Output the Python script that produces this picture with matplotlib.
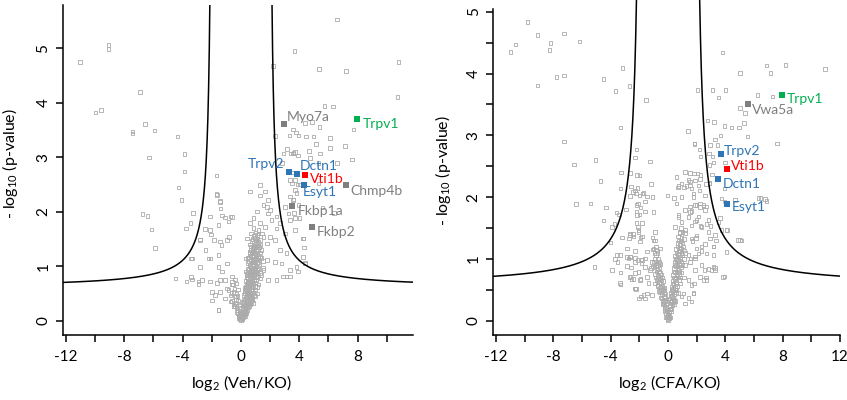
import numpy as np
import matplotlib
matplotlib.use("Agg")
import matplotlib.pyplot as plt
from matplotlib.ticker import MultipleLocator

plt.rcParams['font.family'] = ['Lato', 'DejaVu Sans']
plt.rcParams['axes.unicode_minus'] = False
plt.rcParams['mathtext.fontset'] = 'custom'
plt.rcParams['mathtext.rm'] = 'Lato'

# ---------------- data: left panel (Veh/KO) ----------------
left_outer = [
    (-9.09, 5.06), (-9.09, 4.98), (-11.03, 4.74), (-6.92, 4.19), (-9.96, 3.82), (-9.59, 3.86),
    (-6.58, 3.61), (-5.94, 3.49), (-7.45, 3.47), (-7.45, 3.43), (-4.34, 3.38), (-3.88, 3.06),
    (-6.30, 2.99), (-3.88, 2.74), (-1.67, 2.66), (-4.29, 2.44), (-4.07, 2.21), (-1.67, 2.32),
    (-1.44, 2.20), (-6.76, 1.96), (-6.42, 1.92), (-3.27, 1.98), (-3.45, 1.79), (-3.77, 1.69),
    (-6.12, 1.67), (-2.81, 1.49), (-2.12, 1.91), (-5.89, 1.33), (-3.42, 1.14), (-4.48, 0.77),
    (-3.42, 0.80), (-3.34, 0.76), (-2.92, 0.72), (-2.92, 0.67), (-3.72, 0.72), (-2.12, 0.72),
    (-1.55, 0.20), (-2.22, 1.14), (-2.12, 1.66), (-2.47, 1.68), (-2.05, 1.58), (-1.85, 1.48),
    (-1.33, 1.39), (-1.55, 1.21), (-0.82, 1.54), (-1.10, 1.89), (-1.40, 2.06), (-0.60, 1.90),
    (-1.64, 2.31), (-1.42, 2.18), (-1.31, 1.93), (-1.53, 1.76), (-0.85, 1.82), (-0.73, 1.91),
    (-0.96, 1.48), (-1.42, 1.45), (-3.36, 1.14), (-2.79, 1.48), (-2.44, 1.30), (-2.10, 1.14),
    (-2.79, 0.99), (-1.53, 0.99), (-1.31, 0.90), (-0.96, 1.05), (-1.64, 0.69), (-1.42, 0.75),
    (-1.08, 0.75), (-0.62, 0.81), (-0.62, 0.66), (-2.00, 0.53), (-1.76, 0.47), (-1.42, 0.53),
    (-0.96, 0.59), (-1.08, 0.41), (-0.39, 0.44), (-0.73, 0.35), (-0.50, 0.26), (-1.53, 0.20),
    (-2.00, 0.37), (-2.67, 0.75),
    (0.64, 2.37), (1.32, 2.49), (1.32, 2.30), (1.64, 2.37), (1.87, 2.21), (1.55, 2.12),
    (1.10, 2.00), (0.87, 1.88), (0.64, 1.79), (0.41, 1.51), (1.78, 2.09), (1.87, 1.97),
    (2.10, 1.85), (1.99, 2.03), (2.44, 1.91), (2.67, 1.79), (2.44, 1.69), (1.64, 1.72),
    (1.32, 1.79), (1.21, 1.60), (1.55, 1.54), (1.99, 1.54), (2.33, 1.48), (1.78, 1.42),
    (1.32, 1.39), (0.87, 1.36), (0.64, 1.24), (0.30, 1.14), (2.90, 0.81), (3.13, 0.81),
    (3.36, 0.93), (3.82, 0.99), (3.93, 0.90), (4.27, 1.17), (4.38, 1.05), (2.79, 1.05),
    (3.13, 1.24), (2.67, 1.30), (2.33, 1.08), (1.78, 1.11), (1.55, 0.93), (1.87, 0.75),
    (2.44, 0.75), (3.25, 1.97), (3.02, 2.09), (3.36, 2.28), (3.59, 2.22), (3.82, 2.34),
    (3.36, 1.85), (3.70, 1.88), (3.70, 1.66), (3.02, 1.60), (4.27, 1.51),
    (6.58, 5.52), (3.67, 4.95), (2.19, 4.67), (5.36, 4.62), (7.21, 4.58), (10.80, 4.74),
    (10.75, 4.10), (5.73, 3.94), (6.30, 3.93), (4.40, 3.63), (4.86, 3.64), (5.39, 3.55),
    (3.56, 3.51), (3.79, 3.45), (3.33, 3.40), (3.95, 3.40), (4.46, 3.38), (4.98, 3.38),
    (7.72, 3.51), (2.35, 3.39), (5.15, 3.24), (6.10, 3.17), (7.14, 3.20), (3.15, 3.15),
    (3.42, 3.07), (3.60, 3.08), (3.90, 3.03), (4.68, 3.11), (5.43, 3.07), (7.62, 2.96),
    (2.92, 3.07), (2.81, 2.89), (6.58, 2.89), (6.12, 3.35), (5.32, 2.89), (5.32, 2.52),
    (3.38, 2.58), (3.56, 3.07), (3.72, 3.09), (4.75, 2.98), (3.49, 2.52), (3.72, 2.40),
    (3.56, 2.21), (3.95, 2.12), (3.65, 1.98), (4.02, 1.88), (4.29, 1.51), (4.33, 1.34),
    (4.40, 1.06), (3.38, 0.81), (4.06, 2.50), (3.88, 2.50), (3.49, 2.72), (3.72, 2.58),
    (6.40, 1.98), (5.60, 2.08),
]
left_cluster = [
    (-0.15, 0.05), (-0.05, 0.03), (0.00, 0.01), (0.05, 0.06), (0.10, 0.04), (0.15, 0.09),
    (-0.10, 0.10), (0.08, 0.12), (0.02, 0.08), (-0.02, 0.14),
    (-0.30, 0.16), (-0.20, 0.13), (-0.10, 0.18), (0.05, 0.17), (0.12, 0.15), (0.20, 0.19),
    (0.25, 0.14), (0.30, 0.21),
    (-0.45, 0.27), (-0.30, 0.24), (-0.15, 0.28), (0.10, 0.23), (0.20, 0.26), (0.28, 0.29),
    (0.35, 0.24), (0.42, 0.28), (0.50, 0.25),
    (-0.60, 0.36), (-0.40, 0.33), (-0.20, 0.37), (0.15, 0.34), (0.25, 0.38), (0.35, 0.33),
    (0.42, 0.37), (0.50, 0.35), (0.60, 0.39), (0.70, 0.34),
    (-0.70, 0.46), (-0.35, 0.44), (0.20, 0.47), (0.30, 0.43), (0.40, 0.46), (0.48, 0.42),
    (0.55, 0.48), (0.62, 0.45), (0.75, 0.44), (0.90, 0.47),
    (-0.85, 0.56), (-0.50, 0.53), (-0.20, 0.57), (0.25, 0.54), (0.35, 0.58), (0.45, 0.53),
    (0.55, 0.56), (0.62, 0.52), (0.70, 0.58), (0.80, 0.55), (1.00, 0.57),
    (-0.55, 0.66), (0.30, 0.63), (0.40, 0.67), (0.50, 0.64), (0.60, 0.68), (0.68, 0.63),
    (0.75, 0.66), (0.85, 0.69), (0.95, 0.64), (1.20, 0.66),
    (-0.40, 0.76), (0.35, 0.73), (0.45, 0.77), (0.55, 0.74), (0.65, 0.78), (0.72, 0.72),
    (0.80, 0.76), (0.90, 0.79), (1.05, 0.74), (1.30, 0.77),
    (0.40, 0.86), (0.50, 0.83), (0.60, 0.88), (0.70, 0.84), (0.78, 0.87), (0.85, 0.82),
    (0.95, 0.86), (1.10, 0.89), (1.40, 0.84),
    (0.45, 0.96), (0.55, 0.93), (0.65, 0.97), (0.75, 0.92), (0.85, 0.98), (0.92, 0.94),
    (1.00, 0.96), (1.15, 0.93), (1.50, 0.97),
    (0.50, 1.06), (0.62, 1.03), (0.72, 1.07), (0.82, 1.04), (0.90, 1.08), (1.00, 1.02),
    (1.10, 1.06), (1.25, 1.04),
    (0.55, 1.16), (0.68, 1.13), (0.80, 1.17), (0.90, 1.14), (1.00, 1.18), (1.10, 1.12),
    (1.20, 1.16), (1.40, 1.15),
    (0.60, 1.26), (0.75, 1.23), (0.85, 1.27), (0.95, 1.24), (1.05, 1.28), (1.15, 1.22),
    (1.30, 1.25),
    (0.70, 1.36), (0.80, 1.33), (0.90, 1.37), (1.00, 1.34), (1.10, 1.38), (1.25, 1.35),
    (0.75, 1.46), (0.90, 1.43), (1.05, 1.47), (1.20, 1.44), (0.90, 1.55), (1.10, 1.57),
    (0.20, 0.10), (0.35, 0.17), (0.55, 0.30), (0.80, 0.40), (0.25, 0.60), (0.45, 0.70),
    (0.65, 0.90), (0.70, 1.10), (-0.25, 0.45), (-0.05, 0.30),
]
left_cluster_extra = [
    (0.12, 0.02), (0.18, 0.07), (-0.08, 0.06), (0.22, 0.11), (0.28, 0.09), (-0.18, 0.09),
    (0.32, 0.16), (0.38, 0.13), (-0.25, 0.20), (0.15, 0.22),
    (0.45, 0.20), (0.52, 0.31), (0.58, 0.27), (0.32, 0.30), (0.22, 0.32), (0.65, 0.30),
    (0.18, 0.39), (0.62, 0.40), (0.75, 0.37), (0.85, 0.32), (-0.35, 0.38), (-0.50, 0.30),
    (0.28, 0.50), (0.38, 0.52), (0.50, 0.50), (0.58, 0.60), (0.68, 0.50), (0.72, 0.42),
    (0.85, 0.52), (0.95, 0.45), (0.42, 0.41), (0.32, 0.57), (1.10, 0.50), (-0.45, 0.58),
    (-0.65, 0.51), (-0.30, 0.50),
    (0.35, 0.62), (0.48, 0.72), (0.58, 0.62), (0.62, 0.72), (0.70, 0.70), (0.78, 0.62),
    (0.88, 0.74), (0.98, 0.70), (1.10, 0.62), (0.42, 0.80), (1.15, 0.80), (0.52, 0.67),
    (-0.60, 0.72), (-0.30, 0.68),
    (0.48, 0.88), (0.58, 0.82), (0.68, 0.92), (0.80, 0.90), (0.90, 0.84), (1.00, 0.90),
    (1.05, 0.82), (1.20, 0.95), (0.60, 1.00), (0.72, 0.98), (0.88, 1.00), (1.30, 0.88),
    (0.35, 0.90),
    (0.55, 1.10), (0.65, 1.12), (0.78, 1.10), (0.95, 1.12), (1.05, 1.14), (1.18, 1.08),
    (1.30, 1.18), (0.60, 1.20), (0.85, 1.20), (1.50, 1.10), (0.45, 1.15),
    (0.68, 1.30), (0.80, 1.28), (0.92, 1.32), (1.00, 1.22), (1.12, 1.30), (1.20, 1.38),
    (1.40, 1.30), (0.62, 1.40), (0.85, 1.40),
    (0.80, 1.50), (0.98, 1.52), (1.15, 1.50), (1.30, 1.48), (0.70, 1.60), (1.00, 1.62),
    (1.20, 1.66), (1.45, 1.60), (0.85, 1.70),
]
left_x_ticks = [-12, -8, -4, 0, 4, 8]
left_y_ticks = [0, 1, 2, 3, 4, 5]
left_hits = ['Myo7a', 'Trpv1', 'Trpv2', 'Dctn1', 'Vti1b', 'Esyt1', 'Chmp4b', 'Fkbp1a', 'Fkbp2']
left_hit_x = [2.92, 7.95, 3.29, 3.84, 4.40, 4.32, 7.19, 3.49, 4.90]
left_hit_y = [3.60, 3.70, 2.72, 2.69, 2.67, 2.48, 2.48, 2.11, 1.72]
left_hit_group = ['gray', 'green', 'blue', 'blue', 'red', 'blue', 'gray', 'gray', 'gray']

# ---------------- data: right panel (CFA/KO) ----------------
right_outer = [
    (-9.80, 4.83), (-9.13, 4.62), (-7.25, 4.65), (-10.64, 4.47), (-11.01, 4.35), (-8.20, 4.49),
    (-8.29, 4.38), (-6.18, 4.52), (-3.18, 4.09), (-7.25, 3.97), (-7.78, 3.94), (-9.13, 3.81),
    (-4.51, 3.91), (-3.67, 3.72), (-2.69, 3.80), (-3.32, 3.13), (-7.25, 2.90), (-2.21, 2.77),
    (-2.32, 2.64), (-6.57, 2.53), (-5.06, 2.60), (-3.30, 2.40), (-2.67, 2.39), (-2.16, 2.36),
    (-4.72, 2.26), (-3.32, 2.14), (-2.14, 2.15), (-2.44, 2.08), (-2.25, 2.06), (-2.64, 2.02),
    (-6.41, 1.89), (-5.41, 1.90), (-4.34, 1.83), (-3.60, 1.75), (-2.95, 1.80), (-2.21, 1.87),
    (-1.91, 1.83), (-3.42, 1.72), (-3.74, 1.57), (-4.51, 1.62), (-3.93, 1.52), (-2.21, 1.77),
    (-1.98, 1.72), (-2.21, 1.58), (-2.07, 1.47), (-2.44, 1.40), (-2.74, 1.33), (-3.23, 1.35),
    (-1.91, 1.35), (-4.02, 1.27), (-3.56, 1.06), (-3.70, 1.00), (-2.86, 1.03), (-2.67, 1.03),
    (-2.32, 1.02), (-2.14, 0.98), (-1.86, 0.99), (-1.86, 0.93), (-5.12, 0.87), (-3.93, 0.82),
    (-3.32, 0.78), (-2.58, 0.86), (-2.62, 0.72), (-2.55, 0.67), (-2.30, 0.77), (-1.93, 0.68),
    (-3.32, 0.59), (-2.25, 0.51), (-1.90, 0.39), (-2.02, 0.36),
    (-1.53, 3.57), (-1.25, 2.58), (-1.99, 2.35), (-1.10, 2.00), (-0.05, 2.03), (0.41, 1.99),
    (-1.19, 2.21), (-1.60, 1.77), (-1.78, 2.06), (-2.18, 1.71), (-2.11, 1.52), (-2.65, 1.39),
    (-2.88, 1.17), (-2.30, 1.13), (-3.35, 1.06), (-3.53, 0.95), (-2.88, 0.89), (-2.69, 0.71),
    (-1.95, 0.66), (-2.30, 0.52), (-1.60, 0.36), (-1.14, 0.42),
    (-2.30, 2.11), (-1.99, 2.03), (-1.72, 2.07), (-2.58, 2.17), (-1.48, 2.01), (-1.60, 1.93),
    (-2.09, 1.90), (-1.02, 1.76), (-1.83, 1.58), (-2.07, 1.44), (-2.65, 1.41), (-2.41, 1.36),
    (-1.83, 1.36), (-1.95, 1.28), (-0.91, 1.44), (-1.02, 1.30), (-1.48, 1.12), (-1.60, 1.01),
    (-1.02, 1.17), (-0.79, 1.14), (-0.56, 1.17), (-2.65, 1.04), (-2.76, 1.01), (-2.30, 0.95),
    (-1.83, 0.98), (-1.60, 0.87), (-1.13, 0.95), (-1.25, 0.82), (-2.07, 0.79), (-2.41, 0.68),
    (-3.34, 0.61), (-2.30, 0.52), (-1.72, 0.42), (-1.48, 0.44), (-1.48, 0.71), (-1.37, 0.61),
    (0.60, 2.33), (0.95, 2.22), (1.42, 2.28), (1.65, 2.14), (2.11, 2.19), (1.76, 2.00),
    (0.95, 2.00), (0.60, 1.90), (1.18, 1.79), (1.53, 1.85), (1.88, 1.87), (2.23, 1.90),
    (2.46, 1.85), (0.72, 1.68), (0.95, 1.60), (1.42, 1.68), (1.65, 1.54), (1.99, 1.63),
    (2.34, 1.52), (2.69, 1.57), (2.81, 1.44), (2.93, 1.33), (1.99, 1.38), (1.65, 1.33),
    (0.48, 1.52), (0.83, 1.44), (1.18, 1.47), (2.34, 1.20), (2.69, 1.09), (3.16, 1.20),
    (3.16, 1.06), (2.11, 1.09), (1.88, 1.01), (1.42, 1.06), (1.53, 0.95), (2.34, 0.90),
    (1.88, 0.82), (2.23, 0.71), (3.04, 0.82), (3.27, 0.85), (2.69, 0.66), (3.85, 0.71),
    (1.42, 0.66), (1.65, 0.58), (1.76, 0.45), (1.42, 0.37), (0.95, 0.39), (1.18, 0.28),
    (4.90, 1.31), (4.09, 1.47), (3.62, 1.66), (3.27, 1.39),
    (3.81, 4.34), (5.02, 4.01), (6.88, 4.13), (7.16, 4.01), (8.20, 4.14), (10.96, 4.07),
    (2.04, 3.73), (3.11, 3.73), (4.00, 3.73), (3.53, 3.61), (6.25, 3.65), (5.02, 3.44),
    (5.37, 3.36), (7.30, 3.63), (2.74, 3.24), (3.20, 3.22), (3.93, 3.15), (4.44, 3.13),
    (4.97, 3.13), (5.30, 3.20), (3.67, 3.00), (5.53, 2.98), (7.62, 2.87), (1.84, 2.87),
    (2.93, 2.84), (3.44, 2.84), (3.27, 2.93), (2.86, 2.71), (3.09, 2.66), (3.16, 2.56),
    (2.88, 2.52), (3.97, 2.56), (2.27, 2.36), (2.23, 2.29), (3.07, 2.37), (1.81, 2.38),
    (1.53, 2.25), (1.88, 2.27), (2.65, 2.21), (2.90, 2.23), (2.18, 2.11), (1.76, 2.06),
    (2.58, 2.03), (3.74, 1.98), (3.93, 1.93), (6.88, 1.94), (6.46, 1.99), (1.99, 1.87),
    (2.23, 1.84), (2.46, 1.87), (2.58, 1.79), (1.65, 1.78), (2.11, 1.69), (1.88, 1.61),
    (2.81, 1.63), (2.97, 1.53), (2.27, 1.53), (4.13, 1.47), (3.35, 1.30), (3.16, 1.20),
    (5.02, 1.31), (1.95, 1.34), (1.69, 1.29), (2.58, 1.24), (2.35, 1.13), (2.00, 1.17),
    (1.58, 1.01), (1.88, 1.04), (3.16, 0.87), (2.53, 0.82), (3.93, 0.72), (2.65, 0.70),
    (2.46, 0.66), (1.81, 0.60), (1.76, 0.44), (1.65, 0.31), (1.41, 3.07), (1.83, 2.86),
    (2.20, 2.77), (2.27, 2.66), (1.20, 2.41), (1.55, 2.39), (2.06, 2.38), (0.70, 2.16),
    (1.11, 2.16), (1.55, 2.19), (2.90, 2.22), (3.95, 2.14), (6.30, 1.99), (6.77, 1.97),
    (0.72, 2.18), (1.30, 2.18), (0.72, 1.71), (1.53, 1.76), (2.69, 1.85), (3.51, 1.60),
    (4.09, 1.11), (5.13, 1.30), (4.66, 1.95), (3.74, 1.47), (2.81, 0.84), (3.28, 0.82),
    (1.07, 0.44),
]
right_cluster = [
    (-0.10, 0.05), (-0.05, 0.03), (0.00, 0.01), (0.05, 0.04), (0.10, 0.07), (0.02, 0.10),
    (-0.02, 0.08),
    (-0.25, 0.16), (-0.15, 0.13), (-0.08, 0.17), (0.08, 0.14), (0.15, 0.18), (0.22, 0.15),
    (-0.35, 0.26), (-0.25, 0.23), (-0.15, 0.27), (0.12, 0.24), (0.20, 0.28), (0.30, 0.25),
    (0.40, 0.27),
    (-0.45, 0.36), (-0.35, 0.33), (-0.22, 0.37), (-0.15, 0.34), (0.15, 0.36), (0.25, 0.33),
    (0.35, 0.37), (0.45, 0.34),
    (-0.55, 0.46), (-0.42, 0.43), (-0.30, 0.47), (-0.20, 0.44), (0.20, 0.45), (0.30, 0.48),
    (0.42, 0.43), (0.55, 0.46),
    (-0.70, 0.56), (-0.55, 0.53), (-0.40, 0.57), (-0.30, 0.54), (0.25, 0.55), (0.38, 0.58),
    (0.50, 0.53), (0.62, 0.56),
    (-0.80, 0.66), (-0.62, 0.63), (-0.48, 0.67), (-0.35, 0.64), (0.30, 0.65), (0.45, 0.68),
    (0.60, 0.63), (0.75, 0.66),
    (-0.90, 0.76), (-0.70, 0.73), (-0.55, 0.77), (0.35, 0.74), (0.50, 0.78), (0.65, 0.73),
    (0.80, 0.76),
    (-0.95, 0.86), (-0.75, 0.83), (-0.60, 0.87), (0.40, 0.85), (0.55, 0.88), (0.72, 0.83),
    (0.90, 0.86),
    (-1.00, 0.96), (-0.80, 0.93), (0.45, 0.95), (0.60, 0.98), (0.78, 0.93), (0.95, 0.96),
    (-0.85, 1.06), (0.50, 1.05), (0.68, 1.08), (0.85, 1.03), (1.00, 1.06),
    (0.55, 1.16), (0.75, 1.13), (0.92, 1.17), (1.10, 1.14),
    (0.65, 1.26), (0.85, 1.23), (1.00, 1.27), (0.70, 1.36), (0.95, 1.34),
    (-0.50, 0.75), (-0.65, 0.95), (-0.40, 0.50), (0.28, 0.40), (0.70, 0.45), (0.85, 0.60),
    (1.10, 0.70), (1.20, 0.90), (-1.20, 0.85), (-0.90, 0.60),
]
right_cluster_extra = [
    (-0.05, 0.12), (0.05, 0.15), (-0.15, 0.06), (0.15, 0.05), (-0.20, 0.20), (0.25, 0.20),
    (-0.12, 0.22), (0.12, 0.19),
    (-0.30, 0.30), (-0.20, 0.32), (-0.40, 0.28), (0.18, 0.31), (0.28, 0.32), (0.38, 0.30),
    (0.50, 0.32), (-0.50, 0.38), (0.22, 0.40), (-0.28, 0.40),
    (-0.48, 0.50), (-0.35, 0.50), (-0.62, 0.48), (-0.25, 0.52), (0.25, 0.50), (0.35, 0.52),
    (0.48, 0.50), (0.60, 0.50), (-0.75, 0.58), (0.32, 0.60), (0.55, 0.60), (-0.50, 0.60),
    (-0.70, 0.68), (-0.55, 0.68), (-0.42, 0.70), (-0.85, 0.70), (0.40, 0.70), (0.52, 0.70),
    (0.70, 0.70), (0.85, 0.70), (-0.62, 0.80), (-0.80, 0.80), (0.42, 0.80), (0.60, 0.80),
    (0.75, 0.80), (0.95, 0.78),
    (-0.70, 0.90), (-0.85, 0.90), (-1.05, 0.88), (-0.55, 0.92), (0.48, 0.90), (0.65, 0.90),
    (0.82, 0.90), (1.00, 0.90), (-0.90, 1.00), (-0.72, 1.00), (0.52, 1.00), (0.70, 1.00),
    (0.88, 1.00), (1.10, 1.00),
    (-0.95, 1.10), (-0.75, 1.10), (-1.10, 1.15), (0.60, 1.10), (0.78, 1.12), (0.95, 1.10),
    (1.20, 1.10), (0.65, 1.20), (0.85, 1.18), (1.05, 1.20), (-0.85, 1.20),
    (0.72, 1.30), (0.90, 1.30), (1.10, 1.32), (0.80, 1.42), (1.00, 1.44), (1.20, 1.42),
    (0.90, 1.50), (-0.90, 1.30), (-1.10, 1.35),
]
right_x_ticks = [-12, -8, -4, 0, 4, 8, 12]
right_y_ticks = [0, 1, 2, 3, 4, 5]
right_hits = ['Trpv1', 'Vwa5a', 'Trpv2', 'Vti1b', 'Dctn1', 'Esyt1']
right_hit_x = [7.92, 5.60, 3.69, 4.13, 3.46, 4.13]
right_hit_y = [3.65, 3.50, 2.70, 2.45, 2.29, 1.89]
right_hit_group = ['green', 'gray', 'blue', 'red', 'blue', 'blue']

# threshold curve parameters (asymptote, floor, scale)
left_curve = (1.93, 0.60, 1.05)
right_curve = (1.85, 0.56, 1.65)

# ---------------- styles ----------------
marker_col = {'gray': '#7F7F7F', 'green': '#00B050', 'blue': '#2E75B6', 'red': '#FF0000'}
text_col = {'gray': '#7F7F7F', 'green': '#00B050', 'blue': '#2E75B6', 'red': '#FF0000'}
left_offsets = {'Myo7a': (2.5, 5.5, 'left'), 'Trpv1': (4.3, -3.8, 'left'),
                'Trpv2': (-3.4, 6.0, 'right'), 'Dctn1': (1.7, 6.0, 'left'),
                'Vti1b': (3.6, -2.9, 'left'), 'Esyt1': (-0.7, -5.0, 'left'),
                'Chmp4b': (3.1, -3.8, 'left'), 'Fkbp1a': (4.3, -3.6, 'left'),
                'Fkbp2': (3.2, -3.4, 'left')}
right_offsets = {'Trpv1': (3.6, -2.9, 'left'), 'Vwa5a': (2.4, -4.1, 'left'),
                 'Trpv2': (2.2, 2.4, 'left'), 'Vti1b': (2.4, 2.6, 'left'),
                 'Dctn1': (4.0, -3.1, 'left'), 'Esyt1': (3.2, -1.9, 'left')}

fig = plt.figure(figsize=(8.47, 4.0), dpi=100)
ax1 = fig.add_axes([0.0744, 0.1625, 0.4132, 0.825])
ax2 = fig.add_axes([0.5824, 0.1625, 0.4093, 0.8375])


def draw(ax, pts_list, hits, hx, hy, hg, offsets, curve, xlim, ylim):
    pts = np.array(pts_list)
    ax.scatter(pts[:, 0], pts[:, 1], marker='s', s=6.5, facecolors='none',
               edgecolors='#ABABAB', linewidths=0.6, zorder=2)
    a, y0, c = curve
    d = a + np.geomspace(0.02, 14 - a, 600)
    yc = y0 + c / (d - a)
    ax.plot(d, yc, color='black', lw=1.1, zorder=3)
    ax.plot(-d, yc, color='black', lw=1.1, zorder=3)
    for name, x, y, g in zip(hits, hx, hy, hg):
        ax.scatter([x], [y], marker='s', s=14, color=marker_col[g], zorder=4, linewidths=0)
        dx, dy, ha = offsets[name]
        ax.annotate(name, (x, y), xytext=(dx, dy), textcoords='offset points',
                    ha=ha, va='center', fontsize=10, color=text_col[g], zorder=5)
    ax.set_xlim(*xlim)
    ax.set_ylim(*ylim)
    for s in ['top', 'right']:
        ax.spines[s].set_visible(False)
    for s in ['left', 'bottom']:
        ax.spines[s].set_linewidth(1.1)
    ax.xaxis.set_minor_locator(MultipleLocator(2))
    ax.tick_params(axis='both', which='both', direction='out', length=5, width=1.1,
                   labelsize=11, color='black')
    ax.tick_params(axis='x', pad=6)
    ax.tick_params(axis='y', pad=4)


draw(ax1, left_outer + left_cluster + left_cluster_extra, left_hits, left_hit_x, left_hit_y,
     left_hit_group, left_offsets, left_curve, (-12.2, 11.8), (-0.262, 5.79))
ax1.set_xticks(left_x_ticks)
ax1.set_xticklabels([str(t) for t in left_x_ticks])
ax1.set_yticks(left_y_ticks)
ax1.set_yticklabels([str(t) for t in left_y_ticks], rotation=90, va='center')
ax1.set_xlabel(r'log$_\mathregular{2}$ (Veh/KO)', fontsize=11.5)
ax1.set_ylabel(r'- log$_\mathregular{10}$ (p-value)', fontsize=11.5)
ax1.xaxis.set_label_coords(0.51, -0.115)
ax1.yaxis.set_label_coords(-0.123, 0.52)

draw(ax2, right_outer + right_cluster + right_cluster_extra, right_hits, right_hit_x,
     right_hit_y, right_hit_group, right_offsets, right_curve, (-12.2, 12.0), (-0.23, 5.19))
ax2.set_xticks(right_x_ticks)
ax2.set_xticklabels([str(t) for t in right_x_ticks])
ax2.set_yticks(right_y_ticks)
ax2.set_yticklabels([str(t) for t in right_y_ticks], rotation=90, va='center')
ax2.yaxis.set_minor_locator(MultipleLocator(0.5))
ax2.tick_params(axis='y', which='minor', length=5, width=1.1)
ax2.spines['left'].set_bounds(-0.23, 5.05)
ax2.set_xlabel(r'log$_\mathregular{2}$ (CFA/KO)', fontsize=11.5)
ax2.set_ylabel(r'- log$_\mathregular{10}$ (p-value)', fontsize=11.5)
ax2.xaxis.set_label_coords(0.51, -0.113)
ax2.yaxis.set_label_coords(-0.116, 0.49)

fig.savefig('out.png', dpi=100)
